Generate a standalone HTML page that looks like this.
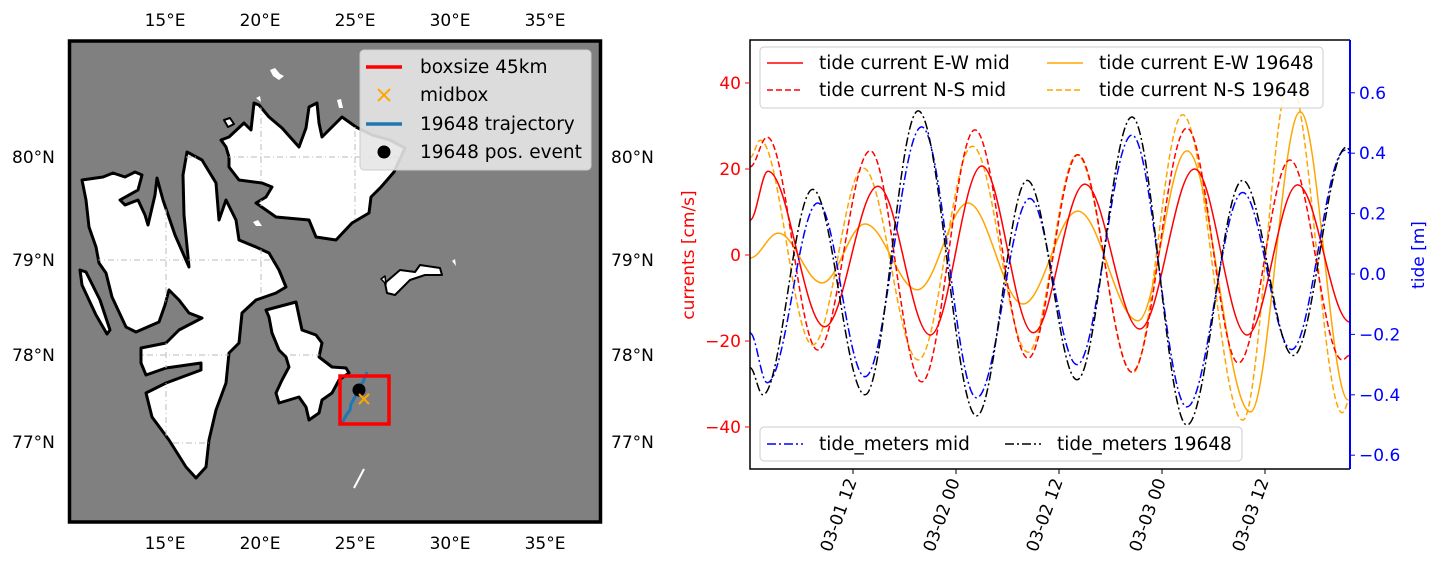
<!DOCTYPE html>
<html><head><meta charset="utf-8">
<style>
body{margin:0;background:#fff;}
svg{display:block;font-family:"DejaVu Sans","Liberation Sans",sans-serif;}
</style></head>
<body>
<svg id="fig" width="1441" height="573" viewBox="0 0 1441 573" xmlns="http://www.w3.org/2000/svg">
<defs>
<clipPath id="landclip">
<use href="#land-main"/><use href="#land-nord"/><use href="#land-barents"/><use href="#land-forland"/>
</clipPath>
<clipPath id="plotclip"><rect x="750" y="40" width="600" height="429"/></clipPath>
</defs>
<g>
<rect x="69" y="40" width="532" height="483" fill="#808080"/>
<g fill="#fff" stroke="#000" stroke-width="3" stroke-linejoin="round">
<polygon id="land-main" points="82,180 103,177 113,173 125,177 135,172 142,175 138,190 120,200 125,205 138,200 145,215 148,225 155,195 157,178 163,200 175,235 189,267 184,215 183,175 187,152 202,160 216,183 219,220 226,200 236,220 239,240 256,247 269,253 279,270 286,287 276,293 256,300 242,313 239,343 229,353 226,383 216,410 209,440 206,467 196,478 186,467 169,440 152,417 146,393 166,383 201,370 201,363 166,368 146,375 141,363 141,348 166,343 179,330 202,318 189,313 179,300 169,290 165,305 159,322 136,332 126,327 112,297 106,273 99,263 96,247 89,227 86,200"/>
<polygon id="land-forland" points="80,270 86,272 100,300 110,330 107,334 96,315 82,285"/>
<polygon id="land-nord" points="221,140 229,137 244,123 251,130 254,103 259,105 269,117 282,128 299,147 306,128 309,107 317,103 319,123 322,137 332,127 342,117 356,127 372,135 390,140 405,148 394,172 381,187 371,197 369,213 352,223 336,240 316,237 309,220 276,217 256,203 266,197 272,187 262,183 239,180 229,167 229,157 226,147"/>
<polygon id="land-barents" points="266,310 296,302 302,330 316,335 322,343 319,357 332,367 346,368 349,373 339,380 332,393 322,400 319,413 309,420 306,407 299,397 279,403 276,393 282,380 289,367 286,357 279,350 272,333 269,317"/>
<polygon stroke-width="2" points="385,283 400,270 415,272 420,265 440,268 442,275 425,275 410,280 395,295 387,293"/>
<polygon stroke-width="2" points="224,120 230,118 234,124 228,127"/>
<polygon stroke-width="1.5" points="381,279 385,276 386,284"/>
</g>
<g fill="#fff">
<polygon points="270,70 275,68 280,74 284,76 279,80 273,76"/>
<polygon points="256,98 260,96 261,102"/>
<polygon points="337,100 341,99 343,108 339,108"/>
<polygon points="452,261 455,259 456,266"/>
<polygon points="253,222 258,220 262,226 256,226"/>
</g>
<line x1="354" y1="488" x2="364" y2="469" stroke="#fff" stroke-width="2"/>
<g clip-path="url(#landclip)" stroke="#bbb" stroke-width="1" stroke-dasharray="6,3,1,3" fill="none">
<line x1="166" y1="40" x2="166" y2="523"/><line x1="261" y1="40" x2="261" y2="523"/><line x1="355" y1="40" x2="355" y2="523"/>
<line x1="69" y1="157" x2="601" y2="157"/><line x1="69" y1="260" x2="601" y2="260"/><line x1="69" y1="355" x2="601" y2="355"/><line x1="69" y1="443" x2="601" y2="443"/>
</g>
<polyline points="342,423 347,414 350,410 351,404 355,397 358,390 363,382 367,372" fill="none" stroke="#1f77b4" stroke-width="3"/>
<rect x="340" y="376" width="49" height="48" fill="none" stroke="#f00" stroke-width="3.5"/>
<circle cx="359" cy="390" r="6.5" fill="#000"/>
<g stroke="orange" stroke-width="2"><line x1="359" y1="394" x2="369" y2="404"/><line x1="369" y1="394" x2="359" y2="404"/></g>
<rect x="69.5" y="41" width="531" height="481" fill="none" stroke="#000" stroke-width="3.5"/>
<g font-size="18.5">
<rect x="360" y="50" width="231" height="120" rx="4" fill="#e6e6e6" fill-opacity="0.9" stroke="#ccc"/>
<line x1="366" y1="67" x2="402" y2="67" stroke="#f00" stroke-width="3.5"/>
<text x="420" y="73">boxsize 45km</text>
<g stroke="orange" stroke-width="2"><line x1="378" y1="89" x2="390" y2="101"/><line x1="390" y1="89" x2="378" y2="101"/></g>
<text x="420" y="101">midbox</text>
<line x1="366" y1="124" x2="402" y2="124" stroke="#1f77b4" stroke-width="3.5"/>
<text x="420" y="130">19648 trajectory</text>
<circle cx="384" cy="152" r="6.5" fill="#000"/>
<text x="420" y="158">19648 pos. event</text>
</g>
<g font-size="17" text-anchor="middle">
<text x="165" y="26">15°E</text><text x="260" y="26">20°E</text><text x="355" y="26">25°E</text><text x="450" y="26">30°E</text><text x="545" y="26">35°E</text>
<text x="165" y="549">15°E</text><text x="260" y="549">20°E</text><text x="355" y="549">25°E</text><text x="450" y="549">30°E</text><text x="545" y="549">35°E</text>
</g>
<g font-size="17">
<text x="12" y="163">80°N</text><text x="12" y="266">79°N</text><text x="12" y="361">78°N</text><text x="12" y="448">77°N</text>
<text x="611" y="163">80°N</text><text x="611" y="266">79°N</text><text x="611" y="361">78°N</text><text x="611" y="448">77°N</text>
</g>
</g>
<g id="chart"></g>
</svg>
<script>
// hours since 03-01 00:00, extrema
const ewMidT = [0, 2.1, 8.7, 14.9, 21.0, 27.0, 33.0, 39.0, 45.4, 51.8, 57.9, 63.8, 69.9];
const ewMidV = [8.1, 19.5, -16.7, 16.0, -18.6, 20.7, -18.1, 16.5, -17.2, 20.0, -18.6, 16.3, -15.6];
const nsMidT = [0, 2.0, 7.9, 14.0, 20.0, 26.2, 32.4, 38.2, 44.5, 50.9, 56.9, 62.9, 69.0, 69.9];
const nsMidV = [20.5, 27.4, -22.1, 24.2, -29.5, 29.1, -24.0, 23.3, -27.2, 29.5, -25.1, 22.1, -24.4, -23.3];
const ewDrT = [0, 3.3, 8.4, 13.4, 19.5, 25.4, 31.8, 38.2, 45.2, 50.9, 58.3, 64.1, 69.7];
const ewDrV = [-0.7, 5.1, -6.5, 7.2, -8.1, 12.1, -11.4, 10.2, -15.3, 24.2, -36.5, 33.3, -33.7];
const nsDrT = [0, 1.2, 7.3, 13.2, 19.6, 25.9, 32.4, 38.1, 44.6, 50.4, 57.4, 62.9, 69.0, 69.9];
const nsDrV = [22.6, 26.7, -20.9, 20.2, -24.4, 25.3, -22.6, 23.3, -27.4, 32.6, -38.4, 40.7, -36.7, -33.7];
const tideMidT = [0, 2.0, 7.9, 13.4, 20.0, 26.4, 32.6, 38.1, 44.5, 50.9, 57.4, 63.1, 69.3, 69.9];
const tideMidV = [-0.195, -0.36, 0.235, -0.34, 0.487, -0.41, 0.25, -0.30, 0.46, -0.44, 0.27, -0.25, 0.41, 0.40];
const tideDrT = [0, 1.5, 7.3, 13.4, 19.6, 26.4, 32.3, 38.1, 44.5, 50.9, 57.4, 63.3, 69.5, 69.9];
const tideDrV = [-0.31, -0.40, 0.28, -0.40, 0.54, -0.47, 0.31, -0.35, 0.52, -0.50, 0.31, -0.27, 0.42, 0.41];
const curTicks = [40, 20, 0, -20, -40];
const tideTicks = [0.6, 0.4, 0.2, 0.0, -0.2, -0.4, -0.6];
const timeTicks = [12, 24, 36, 48, 60];
const timeLabels = ["03-01 12", "03-02 00", "03-02 12", "03-03 00", "03-03 12"];

const NS = "http://www.w3.org/2000/svg";
const X0 = 750, X1 = 1350, Y0 = 40, Y1 = 469;
const xS = h => X0 + h * (103 / 12);
const yC = v => 255 - v * 4.3;
const yT = t => 274 - t * 302;
const chart = document.getElementById('chart');
function mk(tag, attrs, parent) {
  const e = document.createElementNS(NS, tag);
  for (const k in attrs) e.setAttribute(k, attrs[k]);
  (parent || chart).appendChild(e);
  return e;
}
function pathD(ts, vs, ys) {
  let d = 'M' + xS(ts[0]).toFixed(1) + ',' + ys(vs[0]).toFixed(1);
  for (let i = 1; i < ts.length; i++) {
    const xa = xS(ts[i - 1]), ya = ys(vs[i - 1]), xb = xS(ts[i]), yb = ys(vs[i]);
    const dx = (xb - xa) * 0.36;
    d += ' C' + (xa + dx).toFixed(1) + ',' + ya.toFixed(1) + ' ' + (xb - dx).toFixed(1) + ',' + yb.toFixed(1) + ' ' + xb.toFixed(1) + ',' + yb.toFixed(1);
  }
  return d;
}
const g = mk('g', {'clip-path': 'url(#plotclip)'});


const series = [
  [ewDrT, ewDrV, yC, 'orange', '', 'line-ew-19648'],
  [nsDrT, nsDrV, yC, 'orange', '6,3', 'line-ns-19648'],
  [ewMidT, ewMidV, yC, 'red', '', 'line-ew-mid'],
  [nsMidT, nsMidV, yC, 'red', '6,3', 'line-ns-mid'],
  [tideMidT, tideMidV, yT, 'blue', '9,3,2,3', 'line-tide-mid'],
  [tideDrT, tideDrV, yT, 'black', '9,3,2,3', 'line-tide-19648'],
];
series.forEach(s => {
  const p = mk('path', {d: pathD(s[0], s[1], s[2]), fill: 'none', stroke: s[3], 'stroke-width': 1.5, 'stroke-dasharray': s[4] || 'none'}, g);
  
  
});
const fr = mk('path', {d: `M${X1},${Y0} L${X0},${Y0} L${X0},${Y1} L${X1},${Y1}`, fill: 'none', stroke: '#000', 'stroke-width': 1.5});


const rs = mk('line', {x1: X1, y1: Y0, x2: X1, y2: Y1, stroke: 'blue', 'stroke-width': 2});


curTicks.forEach(v => {
  const y = yC(v);
  mk('line', {x1: X0 - 5, y1: y, x2: X0, y2: y, stroke: 'red', 'stroke-width': 1});
  const t = mk('text', {x: X0 - 9, y: y + 6, 'text-anchor': 'end', 'font-size': 17, fill: 'red'});
  
  
  t.textContent = v < 0 ? '\u2212' + (-v) : String(v);
});
tideTicks.forEach(v => {
  const y = yT(v);
  mk('line', {x1: X1, y1: y, x2: X1 + 5, y2: y, stroke: 'blue', 'stroke-width': 1});
  const t = mk('text', {x: X1 + 9, y: y + 6, 'font-size': 17, fill: 'blue'});
  
  
  t.textContent = v < 0 ? '\u2212' + (-v).toFixed(1) : v.toFixed(1);
});
timeTicks.forEach((h, i) => {
  const x = xS(h);
  mk('line', {x1: x, y1: Y1, x2: x, y2: Y1 + 5, stroke: '#000', 'stroke-width': 1});
  const t = mk('text', {x: x + 4, y: Y1 + 12, 'text-anchor': 'end', 'font-size': 17, transform: `rotate(-70 ${x + 4} ${Y1 + 12})`});
  
  
  t.textContent = timeLabels[i];
});
const yl = mk('text', {x: 694, y: 255, 'text-anchor': 'middle', 'font-size': 17, fill: 'red', transform: 'rotate(-90 694 255)'});


yl.textContent = 'currents [cm/s]';
const yr = mk('text', {x: 1424, y: 255, 'text-anchor': 'middle', 'font-size': 17, fill: 'blue', transform: 'rotate(-90 1424 255)'});


yr.textContent = 'tide [m]';
function legend(x, y, w, h, items, name) {
  const lg = mk('g', {});
  
  
  mk('rect', {x: x, y: y, width: w, height: h, rx: 4, fill: '#fff', 'fill-opacity': 0.85, stroke: '#ccc'}, lg);
  items.forEach(it => {
    mk('line', {x1: it[0], y1: it[1], x2: it[0] + 36, y2: it[1], stroke: it[2], 'stroke-width': 1.5, 'stroke-dasharray': it[3] || 'none'}, lg);
    const t = mk('text', {x: it[0] + 52, y: it[1] + 6, 'font-size': 18.5}, lg);
    
    
    t.textContent = it[4];
  });
}
legend(760, 47, 563, 61, [
  [767, 63, 'red', '', 'tide current E-W mid'],
  [767, 90, 'red', '6,3', 'tide current N-S mid'],
  [1047, 63, 'orange', '', 'tide current E-W 19648'],
  [1047, 90, 'orange', '6,3', 'tide current N-S 19648'],
], 'currents-legend');
legend(760, 427, 482, 34, [
  [767, 444, 'blue', '9,3,2,3', 'tide_meters mid'],
  [1005, 444, 'black', '9,3,2,3', 'tide_meters 19648'],
], 'tide-legend');
</script>
</body></html>
